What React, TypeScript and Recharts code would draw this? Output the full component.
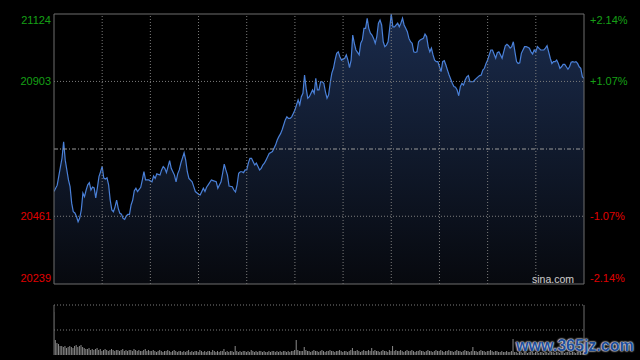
import React from 'react';
import { ComposedChart, Area, Bar, XAxis, YAxis, ReferenceLine } from 'recharts';

// ---- data ----
const prevClose = 20681.5;
const priceTicks = [20239, 20461, 20903, 21124];
const leftLabels = ['20239', '20461', '20903', '21124'];
const rightLabels = ['-2.14%', '-1.07%', '+1.07%', '+2.14%'];
const priceGridTicks = [20461, 20903];
const timeGridTicks = [30, 60, 90, 120, 150, 180, 210, 240, 270, 300];
const sessionBounds = [0, 330];
const volumeGridTicks = [25, 50];

// minutes since 9:30 (trading minutes)
const times = [
  0, 2, 4, 5, 6, 7, 9, 10, 11, 12,
  13, 14, 15, 16, 17, 18, 19, 20, 21, 22,
  23, 24, 25, 26, 27, 28, 29, 30, 31, 32,
  33, 34, 35, 36, 37, 38, 39, 40, 41, 42,
  43, 44, 45, 46, 47, 48, 49, 50, 51, 52,
  54, 55, 56, 57, 59, 61, 62, 63, 64, 66,
  67, 68, 69, 70, 72, 73, 74, 75, 76, 77,
  78, 79, 81, 82, 83, 84, 86, 87, 88, 90,
  91, 93, 94, 95, 96, 98, 99, 101, 102, 104,
  105, 106, 107, 108, 109, 111, 112, 113, 114, 115,
  116, 117, 118, 119, 120, 121, 122, 123, 124, 125,
  126, 127, 128, 129, 130, 131, 132, 133, 134, 136,
  137, 138, 139, 140, 141, 142, 143, 144, 145, 146,
  147, 148, 149, 150, 151, 152, 153, 154, 155, 156,
  157, 158, 159, 160, 161, 162, 163, 164, 165, 166,
  167, 168, 169, 170, 171, 172, 173, 174, 175, 176,
  177, 178, 179, 181, 182, 183, 184, 185, 186, 187,
  188, 189, 190, 191, 192, 193, 194, 195, 196, 197,
  198, 199, 200, 201, 202, 203, 204, 205, 206, 207,
  208, 209, 210, 211, 212, 214, 215, 216, 217, 218,
  219, 220, 221, 222, 223, 224, 225, 226, 227, 228,
  230, 231, 232, 233, 234, 235, 236, 237, 238, 239,
  240, 241, 242, 243, 244, 245, 246, 248, 249, 250,
  251, 252, 253, 254, 255, 256, 257, 258, 259, 260,
  261, 262, 263, 264, 265, 266, 267, 268, 269, 270,
  271, 272, 273, 275, 276, 277, 278, 279, 280, 281,
  282, 283, 284, 285, 286, 287, 288, 289, 290, 291,
  292, 293, 294, 295, 296, 297, 298, 299, 300, 301,
  303, 304, 305, 306, 307, 308, 309, 310, 311, 312,
  313, 314, 315, 316, 317, 318, 319, 320, 321, 322,
  323, 324, 325, 326, 327, 328, 329, 330,
];

const prices = [
  20542, 20563, 20623, 20652, 20705, 20645, 20580, 20558, 20504, 20476,
  20472, 20460, 20443, 20455, 20482, 20537, 20525, 20547, 20564, 20571,
  20547, 20557, 20554, 20521, 20554, 20591, 20607, 20624, 20586, 20583,
  20587, 20564, 20514, 20482, 20476, 20492, 20514, 20487, 20471, 20468,
  20454, 20451, 20462, 20467, 20467, 20498, 20514, 20545, 20553, 20542,
  20556, 20580, 20607, 20580, 20580, 20574, 20593, 20585, 20600, 20596,
  20613, 20624, 20618, 20604, 20643, 20618, 20607, 20596, 20574, 20600,
  20613, 20635, 20669, 20645, 20607, 20585, 20574, 20558, 20542, 20533,
  20531, 20553, 20542, 20556, 20564, 20580, 20578, 20574, 20553, 20574,
  20602, 20632, 20613, 20596, 20560, 20558, 20547, 20541, 20564, 20602,
  20607, 20607, 20604, 20613, 20613, 20635, 20651, 20651, 20640, 20629,
  20635, 20624, 20613, 20618, 20629, 20635, 20645, 20656, 20667, 20673,
  20684, 20695, 20711, 20722, 20731, 20744, 20760, 20777, 20787, 20782,
  20782, 20787, 20798, 20809, 20826, 20842, 20826, 20853, 20864, 20924,
  20880, 20848, 20853, 20864, 20875, 20864, 20913, 20875, 20875, 20902,
  20902, 20897, 20869, 20848, 20859, 20899, 20930, 20946, 20973, 20995,
  21000, 20984, 20973, 20979, 20990, 20973, 20948, 20973, 21055, 21028,
  21006, 20998, 20990, 21028, 21039, 21077, 21077, 21110, 21077, 21061,
  21055, 21044, 21028, 21050, 21094, 21104, 21088, 21033, 21017, 21022,
  21033, 21077, 21124, 21082, 21082, 21094, 21082, 21094, 21110, 21088,
  21077, 21066, 21044, 21033, 21028, 21000, 20998, 21000, 21033, 21039,
  21044, 21058, 21050, 21017, 21000, 21012, 20990, 20973, 20968, 20968,
  20951, 20935, 20968, 20971, 20957, 20940, 20924, 20897, 20886, 20884,
  20875, 20856, 20886, 20897, 20891, 20908, 20918, 20922, 20902, 20902,
  20902, 20908, 20913, 20918, 20922, 20924, 20940, 20946, 20962, 20973,
  20990, 21006, 21006, 20979, 20997, 21000, 20990, 20979, 21000, 21020,
  21025, 21020, 21012, 21017, 21033, 21000, 20968, 20962, 20964, 20995,
  21006, 21017, 21017, 21015, 21012, 21000, 20993, 21006, 21000, 21017,
  21006, 21006, 21006, 21012, 21020, 21000, 20979, 20962, 20968, 20968,
  20973, 20962, 20946, 20951, 20959, 20959, 20951, 20943, 20951, 20966,
  20968, 20966, 20968, 20962, 20951, 20946, 20918, 20913,
];

// one volume value per trading minute (0..330)
const volumes = [
  43, 15, 12, 11, 9,
  9, 8, 9, 7, 8, 9, 8, 7, 9, 10, 8, 9, 10, 8, 7, 6,
  6, 7, 5, 6, 5, 6, 7, 5, 6, 4, 5, 6, 5, 4, 5, 6, 5, 4, 5, 5,
  4, 5, 6, 4, 5, 4, 5, 5, 4, 6, 5, 4, 5, 4, 4, 5, 6, 4, 5, 4,
  4, 5, 4, 3, 4, 5, 4, 3, 4, 4, 5, 4, 3, 4, 5, 4, 3, 4, 4, 3,
  4, 3, 4, 5, 3, 4, 3, 4, 4, 3, 5, 4, 3, 4, 3, 4, 4, 3, 5, 4, 3, 4, 3, 4, 4,
  6,
  3, 4, 3, 4, 4, 3,
  9,
  4, 3, 4, 3, 4, 4, 3, 4, 3, 5, 4, 3, 4, 3, 4, 4, 3, 4, 3, 3, 4, 3, 4, 4, 3, 4, 3, 4, 3, 4, 4, 3, 4, 3, 4, 4, 5,
  15,
  5, 4, 4, 4, 8, 5, 4, 4, 3, 4, 5, 4, 4, 3, 4, 5, 4, 3, 4, 4, 5, 4, 4, 3, 4, 4, 5, 4, 3, 4, 4, 3, 4, 5,
  7,
  4, 4, 5, 4, 3, 4, 5, 4, 4, 5, 4,
  7,
  4, 5, 4, 4, 3, 4, 5, 4, 4, 3, 5, 4,
  9,
  4, 5, 4, 4, 5, 4, 3, 4, 5, 4, 4, 5, 4, 3, 4, 4, 5, 4, 4, 3, 4, 5, 4, 4, 3, 4, 5, 4, 4, 5,
  4, 3, 4, 4, 5, 4, 4, 3, 4, 5, 4, 4, 3, 4, 5, 4, 4, 3, 4,
  8,
  4, 4, 3, 4, 5, 4, 4, 3, 4, 4, 5, 4, 3, 4, 4, 3, 3, 4, 3, 3, 4, 3, 3, 4,
  16,
  3, 3, 2, 3, 3, 2, 3, 3, 2, 3, 3, 3, 2, 3, 3, 2, 3, 3, 2, 3, 3, 2, 3, 3, 3, 2, 3, 3, 2, 3,
  3, 2, 3, 3, 3, 2, 3, 3, 2, 3, 3, 3, 2, 6,
];

// ---- styles ----
const GREEN = '#16a016';
const RED = '#e00000';
const GRID = '#7c7c7c';
const BORDER = '#6e6e6e';
const FONT = '"Liberation Sans", Arial, sans-serif';

const priceData = times.map((m, i) => ({ m, p: prices[i] }));
const volumeData = volumes.map((v, i) => ({ m: i, v }));

const yMin = priceTicks[0];
const yMax = priceTicks[priceTicks.length - 1];

function makeTick(labels: string[]) {
  return (props: any) => {
    const { x, y, payload, textAnchor } = props;
    const idx = priceTicks.indexOf(payload.value);
    if (idx < 0) return <g />;
    const v = payload.value;
    const dy = v === yMax ? 6 : v === yMin ? -6 : 0;
    return (
      <text
        x={x}
        y={y + dy}
        dy="0.36em"
        textAnchor={textAnchor}
        fill={v > prevClose ? GREEN : RED}
        fontSize={11}
        fontFamily={FONT}
      >
        {labels[idx]}
      </text>
    );
  };
}

export default function App() {
  return (
    <div
      style={{
        position: 'fixed',
        left: 0,
        top: 0,
        width: 640,
        height: 360,
        background: '#000',
        overflow: 'hidden',
      }}
    >
      <div style={{ position: 'absolute', left: 0, top: 0 }}>
        <ComposedChart
          width={640}
          height={300}
          data={priceData}
          margin={{ top: 14, right: 0, bottom: 16, left: 0 }}
        >
          <defs>
            <linearGradient id="areaFill" x1="0" y1="0" x2="0" y2="1">
              <stop offset="0%" stopColor="#1a2b4c" />
              <stop offset="100%" stopColor="#07090e" />
            </linearGradient>
          </defs>
          <XAxis type="number" dataKey="m" domain={sessionBounds} allowDataOverflow hide />
          <YAxis
            yAxisId="l"
            orientation="left"
            width={54}
            type="number"
            domain={[yMin, yMax]}
            ticks={priceTicks}
            allowDataOverflow
            axisLine={false}
            tickLine={false}
            tickSize={0}
            tickMargin={3}
            interval={0}
            tick={makeTick(leftLabels)}
          />
          <YAxis
            yAxisId="r"
            orientation="right"
            width={56}
            type="number"
            domain={[yMin, yMax]}
            ticks={priceTicks}
            allowDataOverflow
            axisLine={false}
            tickLine={false}
            tickSize={0}
            tickMargin={6}
            interval={0}
            tick={makeTick(rightLabels)}
          />
          <Area
            yAxisId="l"
            type="linear"
            dataKey="p"
            stroke="#4a80d8"
            strokeWidth={1.2}
            fill="url(#areaFill)"
            fillOpacity={1}
            dot={false}
            activeDot={false}
            isAnimationActive={false}
          />
          {timeGridTicks.map((t) => (
            <ReferenceLine key={'vx' + t} yAxisId="l" x={t} stroke={GRID} strokeDasharray="1 2" />
          ))}
          {priceGridTicks.map((t) => (
            <ReferenceLine key={'hy' + t} yAxisId="l" y={t} stroke={GRID} strokeDasharray="1 2" />
          ))}
          <ReferenceLine yAxisId="l" y={prevClose} stroke="#9a9a9a" strokeDasharray="4 2 1 2" />
          {sessionBounds.map((t) => (
            <ReferenceLine key={'bx' + t} yAxisId="l" x={t} stroke={BORDER} />
          ))}
          {[yMin, yMax].map((t) => (
            <ReferenceLine key={'by' + t} yAxisId="l" y={t} stroke={BORDER} />
          ))}
        </ComposedChart>
      </div>

      <div style={{ position: 'absolute', left: 0, top: 300 }}>
        <ComposedChart
          width={640}
          height={60}
          data={volumeData}
          margin={{ top: 5, right: 56, bottom: 5, left: 54 }}
        >
          <XAxis type="number" dataKey="m" domain={sessionBounds} allowDataOverflow hide />
          <YAxis type="number" domain={[0, 50]} allowDataOverflow hide />
          <Bar dataKey="v" fill="#8a8a8a" barSize={1} isAnimationActive={false} />
          {volumeGridTicks.map((t) => (
            <ReferenceLine key={'vy' + t} y={t} stroke={GRID} strokeDasharray="1 2" />
          ))}
          {sessionBounds.map((t) => (
            <ReferenceLine key={'vb' + t} x={t} stroke={BORDER} />
          ))}
        </ComposedChart>
      </div>

      <div
        style={{
          position: 'absolute',
          left: 532,
          top: 274,
          fontFamily: FONT,
          fontSize: 10.5,
          lineHeight: '11px',
          color: '#c8c8c8',
          textShadow: '0 0 1px #333',
          whiteSpace: 'nowrap',
        }}
      >
        sina.com
      </div>

      <div
        style={{
          position: 'absolute',
          left: 516,
          top: 338,
          fontFamily: FONT,
          fontWeight: 'bold',
          fontSize: 16,
          lineHeight: '16px',
          color: '#1f4e9a',
          textShadow: '0 0 2px #e8e8e8, 0 0 2px #e8e8e8, 0 0 1px #fff',
          whiteSpace: 'nowrap',
        }}
      >
        www.365jz.com
      </div>
    </div>
  );
}
